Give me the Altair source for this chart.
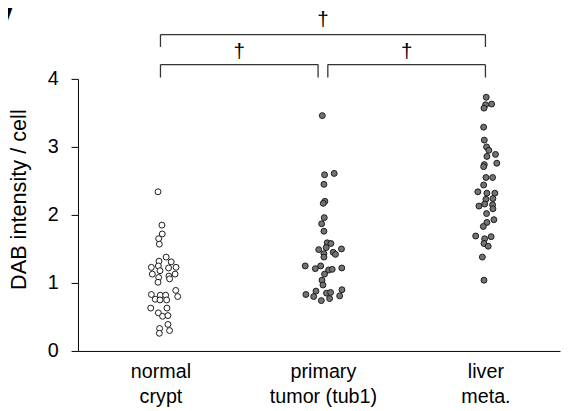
import altair as alt
import pandas as pd

# ---- data ----
groups = ["normal crypt", "primary tumor (tub1)", "liver meta."]
label_lines = [["normal", "crypt"], ["primary", "tumor (tub1)"], ["liver", "meta."]]

normal_vals = [2.34, 1.85, 1.72, 1.65, 1.57, 1.38, 1.32, 1.31, 1.23, 1.25, 1.22, 1.23,
               1.18, 1.13, 1.13, 1.10, 1.08, 1.06, 1.01, 0.89, 0.83, 0.80, 0.76, 0.82,
               0.82, 0.75, 0.75, 0.63, 0.56, 0.63, 0.51, 0.52, 0.39, 0.33, 0.30, 0.26]
normal_jit = [-0.015, 0.009, 0.011, -0.011, -0.007, 0.035, -0.009, 0.066, -0.056, -0.013, 0.050, 0.096,
              -0.003, -0.050, 0.090, 0.052, -0.011, 0.056, -0.015, 0.094, -0.056, 0.106, -0.032, -0.001,
              0.032, -0.003, 0.038, -0.060, -0.013, 0.040, 0.013, 0.046, 0.046, -0.005, 0.056, -0.007]

primary_vals = [3.46, 2.59, 2.61, 2.45, 2.20, 2.17, 1.96, 1.87, 1.76, 1.59, 1.58, 1.52,
                1.49, 1.50, 1.45, 1.42, 1.43, 1.38, 1.25, 1.25, 1.21, 1.19, 1.20, 1.22,
                1.13, 1.04, 0.97, 0.90, 0.88, 0.83, 0.85, 0.86, 0.80, 0.81, 0.77, 0.74]
primary_jit = [-0.004, 0.010, 0.069, 0.006, 0.012, 0.002, 0.008, -0.008, 0.006, 0.026, 0.049, 0.020,
               -0.026, 0.114, 0.063, 0.077, 0.006, 0.006, -0.109, -0.014, -0.047, 0.035, 0.057, 0.116,
               0.010, -0.006, 0.000, 0.117, -0.043, -0.105, 0.022, 0.047, -0.057, 0.103, 0.041, -0.010]

liver_vals = [3.73, 3.63, 3.62, 3.57, 3.29, 3.10, 3.00, 2.95, 2.89, 2.86, 2.76, 2.74,
              2.71, 2.55, 2.55, 2.44, 2.34, 2.32, 2.32, 2.23, 2.24, 2.16, 2.15, 2.13,
              2.09, 2.02, 1.93, 1.89, 1.83, 1.69, 1.68, 1.65, 1.58, 1.54, 1.38, 1.04]
liver_jit = [0.005, 0.038, 0.001, -0.009, -0.011, -0.007, 0.007, 0.021, 0.062, 0.009, 0.070, -0.007,
             -0.011, 0.003, 0.044, -0.011, -0.047, 0.009, 0.058, 0.003, 0.046, -0.005, 0.044, -0.040,
             0.046, 0.007, 0.052, 0.009, -0.013, -0.060, 0.035, -0.005, -0.009, 0.017, -0.019, -0.009]

fill_colors = ["#ffffff", "#737373", "#737373"]

# significance comparisons (group index pairs) and bracket levels
comp_from = [1, 1, 2]
comp_to = [3, 2, 3]
comp_bar = [4.65, 4.21, 4.21]
comp_end = [4.47, 4.02, 4.02]
comp_mark = ["†", "†", "†"]
comp_text_y = [4.87, 4.39, 4.39]
gap = 0.03

# ---- tables ----
rows = []
for gi, (vals, jit) in enumerate([(normal_vals, normal_jit), (primary_vals, primary_jit), (liver_vals, liver_jit)]):
    for v, j in zip(vals, jit):
        rows.append({"group": groups[gi], "x": gi + 1 + j, "value": v})
df = pd.DataFrame(rows)

bars, ends, texts = [], [], []
for a, b, yb, ye, m, ty in zip(comp_from, comp_to, comp_bar, comp_end, comp_mark, comp_text_y):
    xa = a + (gap if (a == 2) else 0)
    xb = b - (gap if (b == 2) else 0)
    bars.append({"x": xa, "x2": xb, "value": yb})
    ends.append({"x": xa, "value": yb, "value2": ye})
    ends.append({"x": xb, "value": yb, "value2": ye})
    texts.append({"x": (xa + xb) / 2, "value": ty, "t": m})
bars = pd.DataFrame(bars)
ends = pd.DataFrame(ends)
texts = pd.DataFrame(texts)

FONT = "Liberation Sans"
xscale = alt.Scale(domain=[0.4924, 3.459], nice=False, zero=False)
yscale = alt.Scale(domain=[0, 4], nice=False, zero=False)

label_expr = " : ".join(
    [f"datum.value == {i + 1} ? {repr(lines)}" for i, lines in enumerate(label_lines[:-1])]
    + [repr(label_lines[-1])]
)

xaxis = alt.Axis(values=[1, 2, 3], ticks=False, grid=False, labelExpr=label_expr,
                 labelFontSize=20, labelFont=FONT, labelColor="black",
                 labelLineHeight=25, labelPadding=11, labelBaseline="top",
                 domainColor="black", domainWidth=1)
yaxis = alt.Axis(values=[0, 1, 2, 3, 4], tickSize=7, tickColor="black", grid=False,
                 labelFontSize=20, labelFont=FONT, labelColor="black", labelPadding=13,
                 titleFontSize=22, titleFont=FONT, titleFontWeight="normal",
                 titleColor="black", titleX=-53, titleY=122, titleAngle=270,
                 titleAlign="center", titleBaseline="alphabetic",
                 domainColor="black", domainWidth=1)
YTITLE = "DAB intensity / cell"


def X():
    return alt.X("x:Q", scale=xscale, title=None, axis=xaxis)


def Y():
    return alt.Y("value:Q", scale=yscale, title=YTITLE, axis=yaxis)


points = alt.Chart(df).mark_point(
    shape="circle", filled=True, size=36, stroke="#1a1a1a", strokeWidth=1, opacity=1
).encode(
    x=X(), y=Y(),
    fill=alt.Fill("group:N", scale=alt.Scale(domain=groups, range=fill_colors), legend=None),
)

bar_layer = alt.Chart(bars).mark_rule(color="#333333", strokeWidth=1.3).encode(
    x=X(), x2="x2:Q", y=Y(),
)
end_layer = alt.Chart(ends).mark_rule(color="#333333", strokeWidth=1.3).encode(
    x=X(), y=Y(), y2="value2:Q",
)
text_layer = alt.Chart(texts).mark_text(
    fontSize=21, font=FONT, color="black", baseline="middle", align="center"
).encode(x=X(), y=Y(), text="t:N")

panel = alt.Chart(pd.DataFrame({"t": ["V"]})).mark_text(
    fontSize=46, font=FONT, fontWeight="bold", align="right", baseline="alphabetic", color="black"
).encode(x=alt.value(-66), y=alt.value(-40), text="t:N")

chart = alt.layer(points, bar_layer, end_layer, text_layer, panel).properties(
    width=489, height=276,
    padding={"left": 71, "top": 69, "right": 1, "bottom": 58},
    autosize=alt.AutoSizeParams(type="none"),
).configure_view(stroke=None)

chart.save("out.html", embed_options={"renderer": "svg", "actions": False})
